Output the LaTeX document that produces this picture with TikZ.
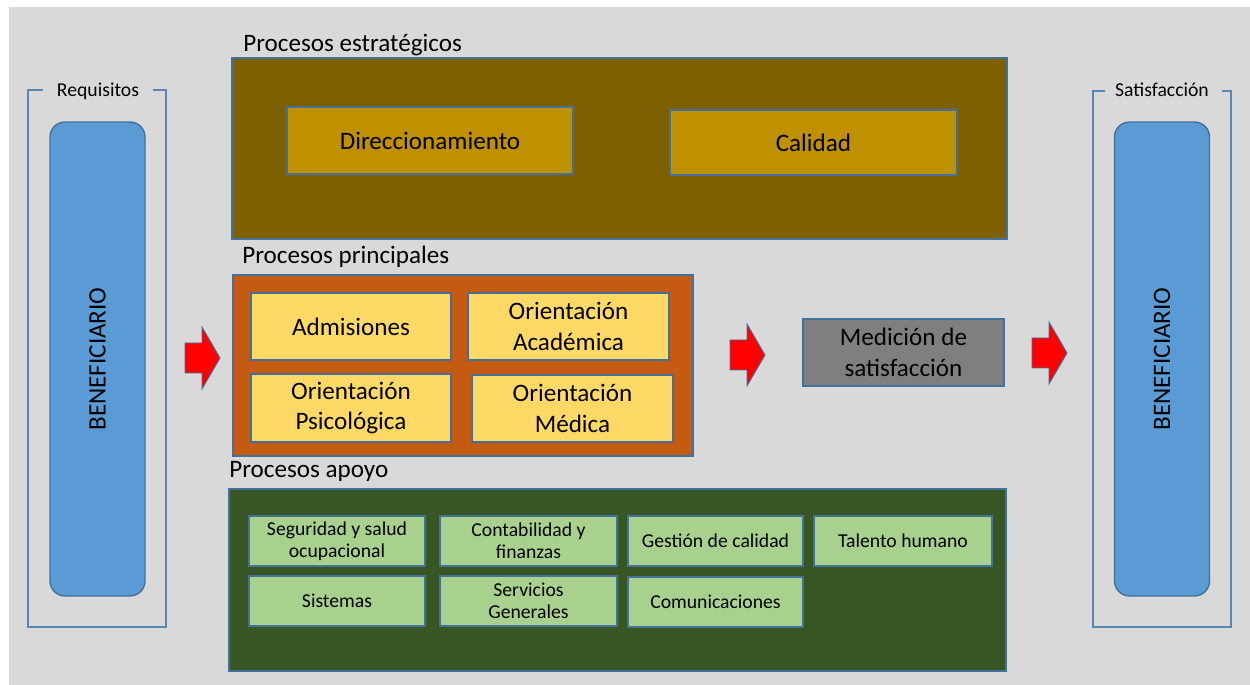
\documentclass[tikz,border=0pt]{standalone}
\usepackage{fontspec}
\setmainfont{Carlito}
\definecolor{fondo}{HTML}{D9D9D9}
\definecolor{borde}{HTML}{41719C}
\definecolor{corch}{HTML}{5A86B2}
\definecolor{cafe}{HTML}{7F6000}
\definecolor{dorado}{HTML}{BF9000}
\definecolor{naranja}{HTML}{C55A11}
\definecolor{amarillo}{HTML}{FFD966}
\definecolor{verdeosc}{HTML}{375623}
\definecolor{verdecl}{HTML}{A9D18E}
\definecolor{gris}{HTML}{7F7F7F}
\definecolor{azul}{HTML}{5B9BD5}
\newcommand{\flecharoja}[1]{%
  \draw[flecha] (#1) -- ++(-18,-31) -- ++(0,16) -- ++(-17,0) -- ++(0,30)
    -- ++(17,0) -- ++(0,16) -- cycle;}
\begin{document}
\begin{tikzpicture}[x=0.02cm,y=-0.02cm,
  grupo/.style={draw=borde,line width=0.7pt,inner sep=0pt},
  caja/.style={draw=borde,line width=0.8pt,inner sep=1pt,align=center,
    font=\fontsize{14.3}{17.6}\selectfont},
  cajita/.style={draw=borde,line width=0.8pt,inner sep=1pt,align=center,
    fill=verdecl,minimum width=3.52cm,minimum height=1cm,
    font=\fontsize{11.2}{12.6}\selectfont},
  titulo/.style={anchor=base west,inner sep=0pt,font=\fontsize{14.3}{17.6}\selectfont},
  etiqueta/.style={anchor=base,fill=fondo,inner sep=0pt,font=\fontsize{11.2}{13}\selectfont},
  benef/.style={draw=borde,line width=0.8pt,fill=azul,rounded corners=0.3cm,rotate=90,
    minimum width=9.48cm,minimum height=1.9cm,font=\fontsize{14.3}{17.6}\selectfont},
  corchete/.style={draw=corch,line width=1pt},
  flecha/.style={fill=red,draw=borde,line width=0.5pt,line join=miter}]
  \useasboundingbox (0,0) rectangle (1250,685);
  \fill[fondo] (9,7) rectangle (1250,685);

  % beneficiario de entrada
  \draw[corchete] (43,90) -| (28,627) -| (166,90) -- (153,90);
  \node[etiqueta] (requisitos) at (98,97) {Requisitos};
  \node[benef] (benefizq) at (97.5,359) {BENEFICIARIO};

  % beneficiario de salida
  \draw[corchete] (1105,91) -| (1093,627) -| (1231,91) -- (1222,91);
  \node[etiqueta] (satisfaccion) at (1162,97) {Satisfacción};
  \node[benef] (benefder) at (1162,359) {BENEFICIARIO};

  % procesos estrategicos
  \node[titulo] at (243,52) {Procesos estratégicos};
  \node[grupo,fill=cafe,minimum width=15.5cm,minimum height=3.62cm] (estrategicos) at (619.5,148.5) {};
  \node[caja,fill=dorado,minimum width=5.72cm,minimum height=1.34cm] (direccion) at (430,140.5) {Direccionamiento};
  \node[caja,fill=dorado,minimum width=5.74cm,minimum height=1.3cm] (calidad) at (813.5,142.5) {Calidad};

  % procesos principales
  \node[titulo] at (242,264) {Procesos principales};
  \node[grupo,fill=naranja,minimum width=9.2cm,minimum height=3.62cm] (principales) at (463,365.5) {};
  \node[caja,fill=amarillo,minimum width=4cm,minimum height=1.34cm] (admisiones) at (351,326.5) {Admisiones};
  \node[caja,fill=amarillo,minimum width=4.02cm,minimum height=1.34cm] (academica) at (568.5,326.5) {Orientación\\Académica};
  \node[caja,fill=amarillo,minimum width=4cm,minimum height=1.36cm] (psicologica) at (351,408) {Orientación\\Psicológica};
  \node[caja,fill=amarillo,minimum width=4.02cm,minimum height=1.34cm] (medica) at (572.5,408.5) {Orientación\\Médica};

  \node[caja,fill=gris,minimum width=4.02cm,minimum height=1.34cm] (medicion) at (903.5,352.5) {Medición de\\satisfacción};

  % flechas
  \coordinate (punta1) at (220,358);
  \coordinate (punta2) at (765,355);
  \coordinate (punta3) at (1067,353);
  \flecharoja{punta1}
  \flecharoja{punta2}
  \flecharoja{punta3}

  % procesos de apoyo
  \node[titulo] at (229,478) {Procesos apoyo};
  \node[grupo,fill=verdeosc,minimum width=15.54cm,minimum height=3.64cm] (apoyo) at (617.5,580) {};
  \node[cajita] (seguridad) at (337,541) {Seguridad y salud\\ocupacional};
  \node[cajita,minimum width=3.54cm] (contabilidad) at (528.5,541) {Contabilidad y\\finanzas};
  \node[cajita,minimum width=3.5cm] (gestion) at (715.5,541) {Gestión de calidad};
  \node[cajita,minimum width=3.56cm] (talento) at (903,541) {Talento humano};
  \node[cajita] (sistemas) at (337,601) {Sistemas};
  \node[cajita,minimum width=3.54cm] (servicios) at (528.5,601) {Servicios\\Generales};
  \node[cajita,minimum width=3.5cm] (comunicaciones) at (715.5,602) {Comunicaciones};
\end{tikzpicture}
\end{document}
